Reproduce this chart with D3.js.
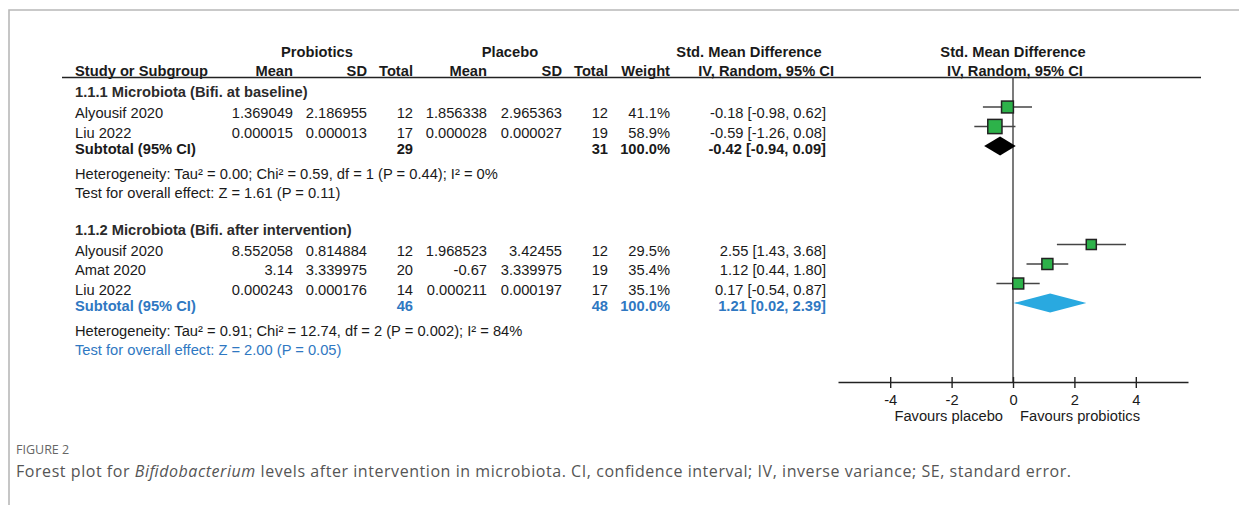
<!DOCTYPE html>
<html><head><meta charset="utf-8">
<script src="https://cdn.jsdelivr.net/npm/d3@7"></script>
<style>body{margin:0;background:#fff}svg{display:block}</style>
</head><body>
<svg id="c" width="1239" height="505"></svg>
<script>
const sections = ["1.1.1 Microbiota (Bifi. at baseline)", "1.1.2 Microbiota (Bifi. after intervention)"];
const studies = ["Alyousif 2020", "Liu 2022", "Alyousif 2020", "Amat 2020", "Liu 2022"];
const studySection = [0, 0, 1, 1, 1];
const probMean = ["1.369049", "0.000015", "8.552058", "3.14", "0.000243"];
const probSD = ["2.186955", "0.000013", "0.814884", "3.339975", "0.000176"];
const probN = [12, 17, 12, 20, 14];
const placMean = ["1.856338", "0.000028", "1.968523", "-0.67", "0.000211"];
const placSD = ["2.965363", "0.000027", "3.42455", "3.339975", "0.000197"];
const placN = [12, 19, 12, 19, 17];
const weight = [41.1, 58.9, 29.5, 35.4, 35.1];
const smd = [-0.18, -0.59, 2.55, 1.12, 0.17];
const ciLo = [-0.98, -1.26, 1.43, 0.44, -0.54];
const ciHi = [0.62, 0.08, 3.68, 1.80, 0.87];
const subProbN = [29, 46];
const subPlacN = [31, 48];
const subWeight = [100.0, 100.0];
const subSmd = [-0.42, 1.21];
const subLo = [-0.94, 0.02];
const subHi = [0.09, 2.39];
const hetText = ["Heterogeneity: Tau\u00b2 = 0.00; Chi\u00b2 = 0.59, df = 1 (P = 0.44); I\u00b2 = 0%",
                 "Heterogeneity: Tau\u00b2 = 0.91; Chi\u00b2 = 12.74, df = 2 (P = 0.002); I\u00b2 = 84%"];
const testText = ["Test for overall effect: Z = 1.61 (P = 0.11)", "Test for overall effect: Z = 2.00 (P = 0.05)"];
const xTicks = [-4, -2, 0, 2, 4];
const xDomain = [-5.7, 5.7];
const groupLabels = ["Probiotics", "Placebo", "Std. Mean Difference", "Std. Mean Difference"];
const colLabels = ["Study or Subgroup", "Mean", "SD", "Total", "Mean", "SD", "Total", "Weight", "IV, Random, 95% CI", "IV, Random, 95% CI"];
const favours = ["Favours placebo", "Favours probiotics"];
const figLabel = "FIGURE 2";

const svg = d3.select("#c");
const FONT = "'Liberation Sans', Arial, sans-serif";
const TXT = "#1a1a1a", BLUE = "#2f78c2";
const f2 = v => v.toFixed(2);
const ciStr = (m, l, h) => `${f2(m)} [${f2(l)}, ${f2(h)}]`;

// frame
svg.append("path").attr("d", "M9,505 L9,10 L1239,10").attr("fill", "none").attr("stroke", "#b8b8b8").attr("stroke-width", 1.6);

const x = d3.scaleLinear().domain(xDomain).range([838, 1188]);
const wSize = d3.scaleSqrt().domain([0, 100]).range([0, 18.5]);

// column right edges
const cx = {name: 75, pm: 293, psd: 367, pn: 413, cm: 487, csd: 562, cn: 608, w: 670, ci: 826};

const g = svg.append("g").attr("font-family", FONT).attr("font-size", 14.7).attr("fill", TXT);
function t(xp, y, s, opts = {}) {
  const e = g.append("text").attr("x", xp).attr("y", y).text(s)
    .attr("text-anchor", opts.anchor || "start");
  if (opts.bold) e.attr("font-weight", "bold");
  if (opts.fill) e.attr("fill", opts.fill);
  return e;
}

// headers
t(317, 57, groupLabels[0], {anchor: "middle", bold: true});
t(510, 57, groupLabels[1], {anchor: "middle", bold: true});
t(749, 57, groupLabels[2], {anchor: "middle", bold: true});
t(x(0), 57, groupLabels[3], {anchor: "middle", bold: true});
t(cx.name, 76, colLabels[0], {bold: true});
t(cx.pm, 76, colLabels[1], {anchor: "end", bold: true});
t(cx.psd, 76, colLabels[2], {anchor: "end", bold: true});
t(cx.pn, 76, colLabels[3], {anchor: "end", bold: true});
t(cx.cm, 76, colLabels[4], {anchor: "end", bold: true});
t(cx.csd, 76, colLabels[5], {anchor: "end", bold: true});
t(cx.cn, 76, colLabels[6], {anchor: "end", bold: true});
t(cx.w, 76, colLabels[7], {anchor: "end", bold: true});
t(834, 76, colLabels[8], {anchor: "end", bold: true});
t(x(0) + 2, 76, colLabels[9], {anchor: "middle", bold: true});
svg.append("line").attr("x1", 62).attr("x2", 1201).attr("y1", 77.5).attr("y2", 77.5)
  .attr("stroke", "#222").attr("stroke-width", 1.4);

// zero line
const axisY = 382;
svg.append("line").attr("x1", x(0)).attr("x2", x(0)).attr("y1", 77).attr("y2", axisY)
  .attr("stroke", "#333").attr("stroke-width", 1.3);

// sections
const marks = svg.append("g");
let y0 = 97;
sections.forEach((sec, si) => {
  t(cx.name, y0, sec, {bold: true, fill: "#2b2b2b"});
  const idx = studySection.map((s, i) => s === si ? i : -1).filter(i => i >= 0);
  let lastText = 0, lastMark = 0;
  idx.forEach((i, k) => {
    const yy = y0 + 21 + 19.5 * k;
    t(cx.name, yy, studies[i]);
    t(cx.pm, yy, probMean[i], {anchor: "end"});
    t(cx.psd, yy, probSD[i], {anchor: "end"});
    t(cx.pn, yy, probN[i], {anchor: "end"});
    t(cx.cm, yy, placMean[i], {anchor: "end"});
    t(cx.csd, yy, placSD[i], {anchor: "end"});
    t(cx.cn, yy, placN[i], {anchor: "end"});
    t(cx.w, yy, weight[i].toFixed(1) + "%", {anchor: "end"});
    t(cx.ci, yy, ciStr(smd[i], ciLo[i], ciHi[i]), {anchor: "end"});
    const my = yy - 11;
    marks.append("line").attr("x1", x(ciLo[i])).attr("x2", x(ciHi[i])).attr("y1", my).attr("y2", my)
      .attr("stroke", "#444").attr("stroke-width", 1.6);
    const s = wSize(weight[i]);
    marks.append("rect").attr("x", x(smd[i]) - s / 2).attr("y", my - s / 2).attr("width", s).attr("height", s)
      .attr("fill", "#2db24a").attr("stroke", "#222").attr("stroke-width", 1.5);
    lastText = yy; lastMark = my;
  });
  const sy = lastText + 16;
  const dy = lastMark + 19.5;
  const col = si === 1 ? BLUE : TXT;
  t(cx.name, sy, "Subtotal (95% CI)", {bold: true, fill: col});
  t(cx.pn, sy, subProbN[si], {anchor: "end", bold: true, fill: col});
  t(cx.cn, sy, subPlacN[si], {anchor: "end", bold: true, fill: col});
  t(cx.w, sy, subWeight[si].toFixed(1) + "%", {anchor: "end", bold: true, fill: col});
  t(cx.ci, sy, ciStr(subSmd[si], subLo[si], subHi[si]), {anchor: "end", bold: true, fill: col});
  const h = 9.5;
  marks.append("path")
    .attr("d", `M${x(subLo[si])},${dy} L${x(subSmd[si])},${dy - h} L${x(subHi[si])},${dy} L${x(subSmd[si])},${dy + h} Z`)
    .attr("fill", si === 1 ? "#29a9e0" : "#000");
  const hy = sy + 25;
  t(cx.name, hy, hetText[si]);
  const tyy = hy + 19;
  t(cx.name, tyy, testText[si], {fill: si === 1 ? BLUE : TXT});
  y0 = tyy + 37;
});

// axis
const axis = d3.axisBottom(x).tickValues(xTicks).tickSizeOuter(0).tickFormat(d => String(d));
const ax = svg.append("g").attr("transform", `translate(0,${axisY})`).call(axis);
ax.select(".domain").attr("stroke", "#222").attr("stroke-width", 1.4);
ax.selectAll(".tick line").attr("y1", -5).attr("y2", 6).attr("stroke", "#222").attr("stroke-width", 1.4);
ax.selectAll(".tick text").attr("y", 23).attr("dy", null).attr("font-size", 14.7)
  .attr("font-family", FONT).attr("fill", TXT);
t(x(0) - 10, 421, favours[0], {anchor: "end"});
t(x(0) + 7, 421, favours[1]);

// caption
const cap = svg.append("g").attr("font-family", "'Open Sans', 'Noto Sans', sans-serif").attr("fill", "#555");
cap.append("text").attr("x", 16).attr("y", 454).attr("font-size", 12.5).attr("fill", "#666").text(figLabel);
const ct = cap.append("text").attr("x", 16).attr("y", 477).attr("font-size", 16)
  .attr("textLength", 1055).attr("lengthAdjust", "spacing");
ct.append("tspan").text("Forest plot for ");
ct.append("tspan").attr("font-style", "italic").text("Bifidobacterium");
ct.append("tspan").text(" levels after intervention in microbiota. CI, confidence interval; IV, inverse variance; SE, standard error.");
</script>
</body></html>
